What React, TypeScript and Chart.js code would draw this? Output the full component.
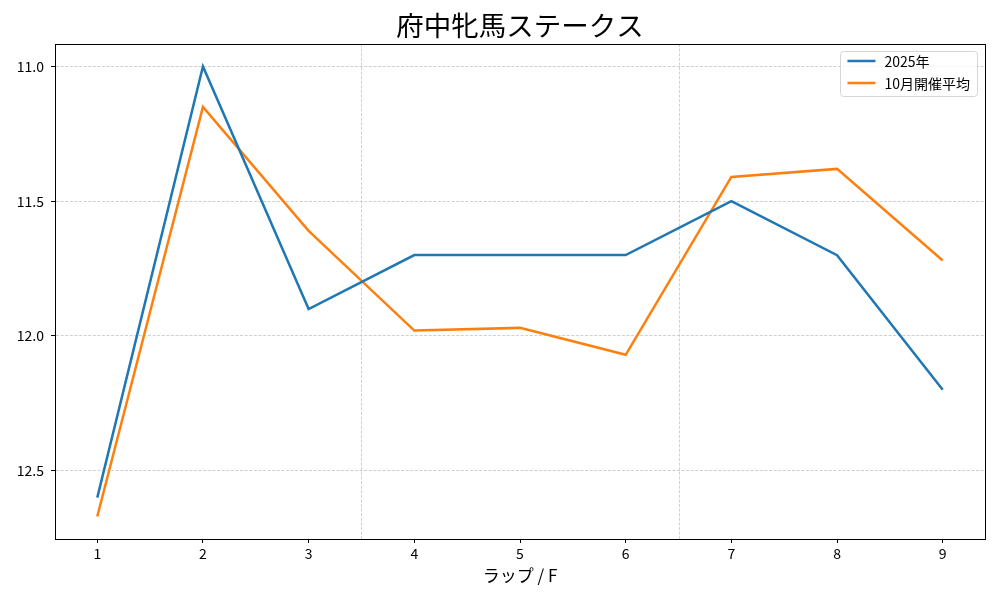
import { useEffect, useRef } from 'react'
import { Chart, registerables, type ChartConfiguration, type Plugin } from 'chart.js'

Chart.register(...registerables)

const FONT = '"Noto Sans CJK JP", "Noto Sans", sans-serif'

const title = '府中牝馬ステークス'
const xTitle = 'ラップ / F'
const laps = [1, 2, 3, 4, 5, 6, 7, 8, 9]
const series2025 = [12.6, 11.0, 11.9, 11.7, 11.7, 11.7, 11.5, 11.7, 12.2]
const seriesOctAvg = [12.67, 11.15, 11.61, 11.98, 11.97, 12.07, 11.41, 11.38, 11.72]
const seriesLabels = ['2025年', '10月開催平均']
const seriesColors = ['#1f77b4', '#ff7f0e']
const yTicks = [11.0, 11.5, 12.0, 12.5]
const sectionBreaks = [3.5, 6.5]

const GRID_COLOR = '#c4c4c4'
const GRID_DASH = [3, 1.6]

function margins(values: number[], frac = 0.05): [number, number] {
  const lo = Math.min(...values)
  const hi = Math.max(...values)
  const pad = (hi - lo) * frac
  return [lo - pad, hi + pad]
}

const framePlugin: Plugin<'line'> = {
  id: 'frameAndTitle',
  beforeDatasetsDraw(chart) {
    const { ctx, chartArea } = chart
    const x = chart.scales.x
    ctx.save()
    ctx.strokeStyle = GRID_COLOR
    ctx.lineWidth = 0.8
    ctx.setLineDash(GRID_DASH)
    for (const v of sectionBreaks) {
      const px = Math.round(x.getPixelForValue(v)) + 0.5
      ctx.beginPath()
      ctx.moveTo(px, chartArea.top)
      ctx.lineTo(px, chartArea.bottom)
      ctx.stroke()
    }
    ctx.restore()
  },
  afterDraw(chart) {
    const { ctx, chartArea } = chart
    ctx.save()
    ctx.strokeStyle = '#000'
    ctx.lineWidth = 1
    ctx.strokeRect(
      Math.round(chartArea.left) + 0.5,
      Math.round(chartArea.top) + 0.5,
      Math.round(chartArea.right - chartArea.left),
      Math.round(chartArea.bottom - chartArea.top)
    )

    // title
    ctx.fillStyle = '#000'
    ctx.font = `27.5px ${FONT}`
    ctx.textAlign = 'center'
    ctx.textBaseline = 'middle'
    ctx.fillText(title, (chartArea.left + chartArea.right) / 2, 26)

    // legend, upper right inside the axes
    ctx.font = `14px ${FONT}`
    ctx.textAlign = 'left'
    const widths = seriesLabels.map((s) => ctx.measureText(s).width)
    const boxW = 7 + 28 + 9 + Math.max(...widths) + 7
    const boxH = 45
    const bx = chartArea.right - 8 - boxW
    const by = chartArea.top + 7
    ctx.fillStyle = 'rgba(255,255,255,0.8)'
    ctx.strokeStyle = '#d6d6d6'
    ctx.lineWidth = 1
    ctx.beginPath()
    ctx.roundRect(Math.round(bx) + 0.5, Math.round(by) + 0.5, Math.round(boxW), boxH, 3)
    ctx.fill()
    ctx.stroke()
    chart.data.datasets.forEach((ds, i) => {
      const ry = by + 10 + i * 22
      ctx.strokeStyle = ds.borderColor as string
      ctx.lineWidth = 2.5
      ctx.beginPath()
      ctx.moveTo(bx + 7, ry)
      ctx.lineTo(bx + 35, ry)
      ctx.stroke()
      ctx.fillStyle = '#000'
      ctx.fillText(ds.label ?? '', bx + 44, ry + 1)
    })
    ctx.restore()
  },
}

export default function App() {
  const canvasRef = useRef<HTMLCanvasElement>(null)

  useEffect(() => {
    document.body.style.margin = '0'
    const canvas = canvasRef.current
    if (!canvas) return

    const [yMin, yMax] = margins([...series2025, ...seriesOctAvg])
    const [xMin, xMax] = margins(laps)

    const config: ChartConfiguration<'line'> = {
      type: 'line',
      data: {
        datasets: [series2025, seriesOctAvg].map((vals, i) => ({
          label: seriesLabels[i],
          data: laps.map((x, j) => ({ x, y: vals[j] })),
          borderColor: seriesColors[i],
          backgroundColor: seriesColors[i],
          borderWidth: 2.5,
          pointRadius: 0,
          tension: 0,
          fill: false,
        })),
      },
      options: {
        responsive: false,
        animation: false,
        layout: { padding: { top: 44, right: 15, left: 0, bottom: 0 } },
        plugins: {
          legend: { display: false },
          title: { display: false },
          tooltip: { enabled: false },
        },
        scales: {
          x: {
            type: 'linear',
            min: xMin,
            max: xMax,
            afterBuildTicks: (s) => {
              s.ticks = laps.map((v) => ({ value: v }))
            },
            afterFit: (s) => {
              s.height = 61
            },
            ticks: {
              color: '#000',
              font: { family: FONT, size: 14 },
              padding: 2,
              maxRotation: 0,
              autoSkip: false,
              callback: (v) => String(v),
            },
            grid: {
              drawOnChartArea: false,
              drawTicks: true,
              tickLength: 4,
              tickColor: '#000',
              tickWidth: 1,
            },
            border: { display: true, color: '#000', width: 1 },
            title: {
              display: true,
              text: xTitle,
              color: '#000',
              font: { family: FONT, size: 17 },
              padding: { top: 0, bottom: 14 },
            },
          },
          y: {
            type: 'linear',
            reverse: true,
            min: yMin,
            max: yMax,
            afterBuildTicks: (s) => {
              s.ticks = yTicks.map((v) => ({ value: v }))
            },
            afterFit: (s) => {
              s.width = 55
            },
            ticks: {
              color: '#000',
              font: { family: FONT, size: 14 },
              padding: 7,
              autoSkip: false,
              callback: (v) => Number(v).toFixed(1),
            },
            grid: {
              color: GRID_COLOR,
              lineWidth: 0.8,
              drawTicks: true,
              tickLength: 4,
              tickColor: '#000',
              tickWidth: 1,
              tickBorderDash: [],
            },
            border: { display: true, color: '#000', width: 1, dash: GRID_DASH },
          },
        },
      },
      plugins: [framePlugin],
    }

    const chart = new Chart(canvas, config)
    return () => {
      chart.destroy()
    }
  }, [])

  return (
    <div style={{ width: 1000, height: 600, background: '#fff' }}>
      <canvas ref={canvasRef} width={1000} height={600} />
    </div>
  )
}
